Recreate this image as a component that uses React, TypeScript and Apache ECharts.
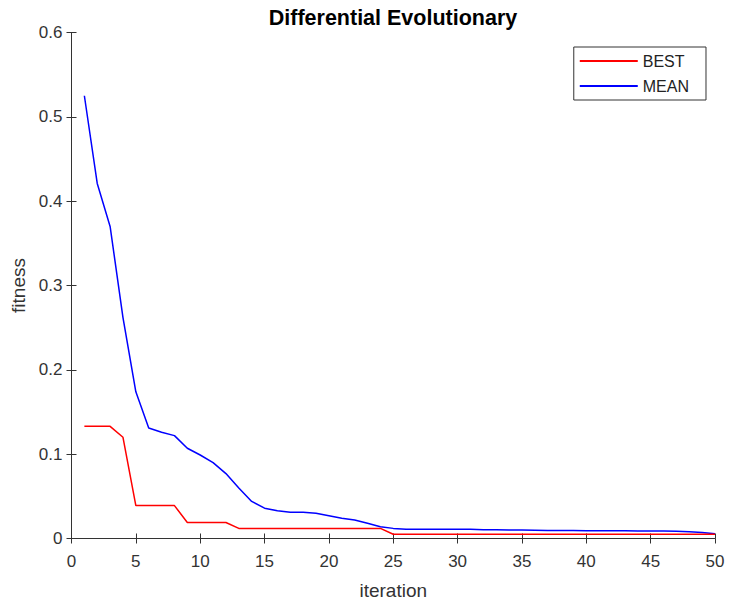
import React, { useEffect, useRef } from "react";
import * as echarts from "echarts";

const iterations: number[] = Array.from({ length: 50 }, (_, i) => i + 1);

const bestValues: number[] = [
  0.133, 0.133, 0.133, 0.12, 0.039, 0.039, 0.039, 0.039, 0.019, 0.019,
  0.019, 0.019, 0.012, 0.012, 0.012, 0.012, 0.012, 0.012, 0.012, 0.012,
  0.012, 0.012, 0.012, 0.012, 0.005, 0.005, 0.005, 0.005, 0.005, 0.005,
  0.005, 0.005, 0.005, 0.005, 0.005, 0.005, 0.005, 0.005, 0.005, 0.005,
  0.005, 0.005, 0.005, 0.005, 0.005, 0.005, 0.005, 0.005, 0.005, 0.005,
];

const meanValues: number[] = [
  0.525, 0.421, 0.37, 0.262, 0.174, 0.131, 0.126, 0.122, 0.107, 0.099,
  0.09, 0.077, 0.06, 0.044, 0.036, 0.033, 0.031, 0.031, 0.03, 0.027,
  0.024, 0.022, 0.018, 0.014, 0.012, 0.011, 0.011, 0.011, 0.011, 0.011,
  0.011, 0.0105, 0.0105, 0.01, 0.01, 0.0098, 0.0096, 0.0095, 0.0094, 0.0093,
  0.0092, 0.0092, 0.0091, 0.009, 0.009, 0.0088, 0.0085, 0.008, 0.007, 0.0055,
];

const seriesNames: string[] = ["BEST", "MEAN"];
const titleText = "Differential Evolutionary";
const xName = "iteration";
const yName = "fitness";

const FONT = "'Liberation Sans', Arial, Helvetica, sans-serif";
const AXIS_COLOR = "#333333";

export default function App() {
  const ref = useRef<HTMLDivElement>(null);

  useEffect(() => {
    document.body.style.margin = "0";
    if (!ref.current) return;
    const chart = echarts.init(ref.current, undefined, { renderer: "svg" });

    const common = {
      axisLine: { show: true, lineStyle: { color: AXIS_COLOR, width: 1 } },
      axisTick: { show: true, inside: true, length: 5, lineStyle: { color: AXIS_COLOR } },
      splitLine: { show: false },
    };

    chart.setOption({
      animation: false,
      backgroundColor: "#ffffff",
      title: {
        text: titleText,
        left: 388,
        textAlign: "center",
        top: 2,
        textStyle: { fontFamily: FONT, fontSize: 21.5, fontWeight: "bold", color: "#000" },
      },
      legend: {
        data: seriesNames,
        orient: "vertical",
        right: 24,
        top: 47,
        backgroundColor: "#fff",
        borderColor: AXIS_COLOR,
        borderWidth: 1,
        padding: [6, 17, 6, 6],
        itemGap: 9,
        itemWidth: 58,
        itemHeight: 2,
        icon: "rect",
        textStyle: { fontFamily: FONT, fontSize: 16, color: "#222", padding: [0, 0, 0, 0] },
      },
      grid: { left: 71.5, right: 15, top: 32.5, bottom: 66.5, containLabel: false },
      xAxis: [
        {
          type: "value",
          min: 0,
          max: 50,
          interval: 5,
          name: xName,
          nameLocation: "middle",
          nameGap: 42,
          nameTextStyle: { fontFamily: FONT, fontSize: 19, color: AXIS_COLOR },
          axisLabel: { fontFamily: FONT, fontSize: 17, color: AXIS_COLOR, margin: 14 },
          ...common,
        },
        {
          type: "value",
          position: "top",
          min: 0,
          max: 50,
          interval: 5,
          axisLabel: { show: false },
          ...common,
        },
      ],
      yAxis: [
        {
          type: "value",
          min: 0,
          max: 0.6,
          interval: 0.1,
          name: yName,
          nameLocation: "middle",
          nameGap: 42,
          nameTextStyle: { fontFamily: FONT, fontSize: 19, color: AXIS_COLOR },
          axisLabel: { fontFamily: FONT, fontSize: 17, color: AXIS_COLOR, margin: 9 },
          ...common,
        },
        {
          type: "value",
          position: "right",
          min: 0,
          max: 0.6,
          interval: 0.1,
          axisLabel: { show: false },
          ...common,
        },
      ],
      series: [
        {
          name: seriesNames[0],
          type: "line",
          xAxisIndex: 0,
          yAxisIndex: 0,
          data: iterations.map((it, i) => [it, bestValues[i]]),
          showSymbol: false,
          symbol: "none",
          lineStyle: { color: "#ff0000", width: 1.5 },
          itemStyle: { color: "#ff0000" },
          z: 3,
        },
        {
          name: seriesNames[1],
          type: "line",
          xAxisIndex: 0,
          yAxisIndex: 0,
          data: iterations.map((it, i) => [it, meanValues[i]]),
          showSymbol: false,
          symbol: "none",
          lineStyle: { color: "#0000ff", width: 1.5 },
          itemStyle: { color: "#0000ff" },
          z: 2,
        },
      ],
    });

    return () => chart.dispose();
  }, []);

  return <div ref={ref} style={{ width: 730, height: 605 }} />;
}
